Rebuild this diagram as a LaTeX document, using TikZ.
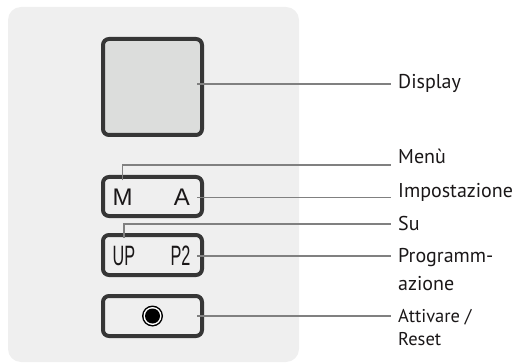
\documentclass[tikz,border=0pt]{standalone}
\usepackage{fontspec}
\setmainfont{PT Sans}
\newfontfamily\keyfont{Liberation Sans}
\definecolor{panelgray}{HTML}{EFEFEF}
\definecolor{screengray}{HTML}{DCDDDC}
\definecolor{framegray}{HTML}{363636}
\definecolor{leadgray}{HTML}{808080}
\definecolor{inkblack}{HTML}{1A1718}

\begin{document}
\begin{tikzpicture}[x=1pt, y=-1pt]
\tikzstyle{panel}=[fill=panelgray, rounded corners=13pt]
\tikzstyle{key}=[rectangle, rounded corners=6pt, line width=4pt, draw=framegray, fill=panelgray, minimum width=99pt, minimum height=40pt]
\tikzstyle{letter}=[inner sep=0pt, text=inkblack, font=\keyfont\fontsize{24}{24}\selectfont]
\tikzstyle{narrow}=[letter, xscale=0.58, font=\keyfont\fontsize{28}{28}\selectfont]
\tikzstyle{caption}=[inner xsep=7pt, inner ysep=0pt, anchor=base west, align=left, text=inkblack, font=\fontsize{20}{28}\selectfont]
\tikzstyle{connect}=[draw=leadgray, line width=1.3pt]
  \useasboundingbox (0,0) rectangle (521,363);
  \fill[panel] (8,7) rectangle (299,362);
  % keys of the front panel
  \node[key, fill=screengray, minimum height=96pt] (disp) at (152.5,87) {};
  \node[key, minimum height=39pt] (ma) at (152.5,196.5) {};
  \node[key] (up) at (152.5,255) {};
  \node[key] (btn) at (152.5,316) {};
  \node[letter, anchor=base west] (mlet) at (112.5,205) {M};
  \node[letter, anchor=base east] (alet) at (190,205) {A};
  \node[narrow, anchor=base west] (uplet) at (112.5,265) {UP};
  \node[narrow, anchor=base east] (p2let) at (190.5,265) {P2};
  \fill[black] (btn.center) circle (10.5pt);
  \fill[white] (btn.center) circle (9pt);
  \fill[black] (btn.center) circle (7.5pt);
  % captions (two-line ones sit on their last baseline)
  \node[caption] (disptxt) at (391,88.3) {Display};
  \node[caption] (menutxt) at (391,164) {Menù};
  \node[caption] (settxt) at (391,197) {Impostazione};
  \node[caption] (sutxt) at (391,230) {Su};
  \node[caption] (progtxt) at (391,290) {Programm-\\azione};
  \node[caption, font=\fontsize{18.5}{23}\selectfont] (resettxt) at (391,345) {Attivare /\\Reset};
  % leaders
  \draw[connect] ([xshift=-7pt, yshift=3pt]disp.east) coordinate (dispend) -- (dispend -| disptxt.west);
  \draw[connect] ([yshift=8pt]mlet.north) |- ([yshift=-1pt]menutxt.base west);
  \draw[connect] ([xshift=-7pt, yshift=-1pt]ma.east) coordinate (maend) -- (maend -| settxt.west);
  \draw[connect] ([yshift=8pt]uplet.north) |- ([yshift=6pt]sutxt.base west);
  \draw[connect] ([xshift=-7pt, yshift=-1pt]up.east) coordinate (upend) -- (upend -| progtxt.west);
  \draw[connect] ([xshift=-7pt]btn.east) coordinate (btnend) -- (btnend -| resettxt.west);
\end{tikzpicture}
\end{document}
